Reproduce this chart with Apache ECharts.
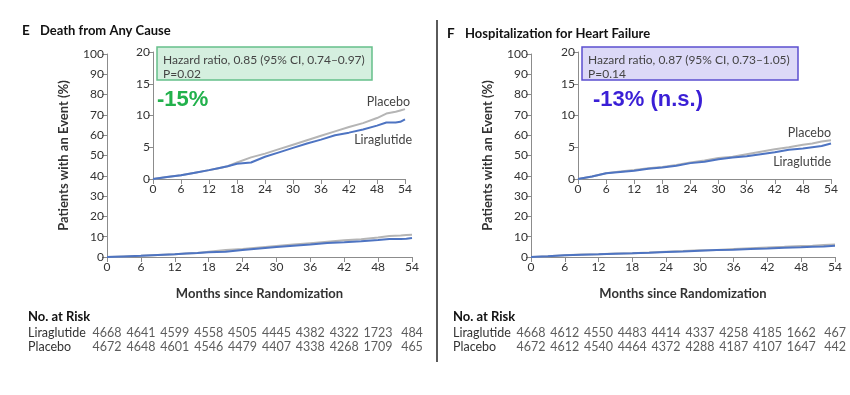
<!DOCTYPE html>
<html><head><meta charset="utf-8">
<script src="https://cdn.jsdelivr.net/npm/echarts@6/dist/echarts.min.js"></script>
<style>html,body{margin:0;padding:0;background:#fff}#c{width:850px;height:395px}</style>
</head><body><div id="c"></div>
<script>
// ---- Data ----
const deathMonths = [0,3,6,9,12,14,16,18,21,24,27,30,33,36,39,42,45,48,50,52,53,54];
const deathPlacebo = [0,0.3,0.6,1.0,1.4,1.7,2.0,2.6,3.4,4.0,4.7,5.4,6.1,6.8,7.5,8.2,8.8,9.6,10.3,10.6,10.8,11.0];
const deathLira    = [0,0.3,0.6,1.0,1.4,1.7,2.0,2.4,2.6,3.5,4.2,4.9,5.6,6.2,6.9,7.3,7.8,8.4,8.9,8.9,9.0,9.4];

const hfMonths = [0,3,6,9,12,15,18,21,24,27,30,33,36,39,42,45,48,50,52,54];
const hfPlacebo = [0,0.4,0.9,1.2,1.4,1.7,1.9,2.2,2.6,2.9,3.3,3.5,3.9,4.3,4.7,5.0,5.4,5.6,5.9,6.1];
const hfLira    = [0,0.4,0.9,1.1,1.3,1.6,1.8,2.1,2.5,2.7,3.1,3.4,3.6,3.9,4.2,4.6,4.8,5.0,5.2,5.6];

const riskMonths = [0,6,12,18,24,30,36,42,48,54];
const riskGroups = ['Liraglutide','Placebo'];
const deathRiskLira    = [4668,4641,4599,4558,4505,4445,4382,4322,1723,484];
const deathRiskPlacebo = [4672,4648,4601,4546,4479,4407,4338,4268,1709,465];
const hfRiskLira       = [4668,4612,4550,4483,4414,4337,4258,4185,1662,467];
const hfRiskPlacebo    = [4672,4612,4540,4464,4372,4288,4187,4107,1647,442];

const panelTitles = ['Death from Any Cause','Hospitalization for Heart Failure'];
const hrTexts = ['Hazard ratio, 0.85 (95% CI, 0.74–0.97)\nP=0.02','Hazard ratio, 0.87 (95% CI, 0.73–1.05)\nP=0.14'];
const bigTexts = ['-15%','-13% (n.s.)'];

// ---- Styling ----
const FONT = 'Lato';
const AX = '#8c8c8c';
const TXT = '#333';
const C_PLA = '#b5b5b5';
const C_LIR = '#4e74c2';

const pair = (xs, ys) => xs.map((x,i)=>[x, ys[i]]);

function xAx(grid, opts) {
  return Object.assign({
    type:'value', gridIndex:grid, min:0, max:54, interval:6,
    axisLine:{show:true, lineStyle:{color:AX, width:1}},
    axisTick:{show:true, length:5, lineStyle:{color:AX}},
    axisLabel:{color:TXT, fontFamily:FONT, fontSize:12, margin:4},
    splitLine:{show:false}
  }, opts||{});
}
function yAx(grid, max, interval, opts) {
  return Object.assign({
    type:'value', gridIndex:grid, min:0, max:max, interval:interval,
    axisLine:{show:true, lineStyle:{color:AX, width:1}},
    axisTick:{show:true, length:5, lineStyle:{color:AX}},
    axisLabel:{color:TXT, fontFamily:FONT, fontSize:12, margin:3},
    splitLine:{show:false}
  }, opts||{});
}
function riskX(grid){ return {type:'value', gridIndex:grid, min:0, max:54, show:false}; }
function riskY(grid, margin){
  return {type:'category', gridIndex:grid, data:riskGroups, inverse:true,
    axisLine:{show:false}, axisTick:{show:false},
    axisLabel:{color:TXT, fontFamily:FONT, fontSize:12.5, align:'left', margin:margin, interval:0}};
}

const mainName = {
  name:'Months since Randomization', nameLocation:'middle', nameGap:30,
  nameTextStyle:{color:TXT, fontFamily:FONT, fontSize:13, fontWeight:'bold'}
};
const yName = {
  name:'Patients with an Event (%)', nameLocation:'middle', nameGap:37,
  nameTextStyle:{color:TXT, fontFamily:FONT, fontSize:13, fontWeight:'bold'}
};

const grids = [
  {left:107, top:54, width:305, height:203},   // 0 left main
  {left:153, top:52, width:252, height:127},   // 1 left inset
  {left:107, top:326, width:305, height:28},   // 2 left risk
  {left:531, top:54, width:304, height:203},   // 3 right main
  {left:578, top:52, width:253, height:127},   // 4 right inset
  {left:531, top:326, width:304, height:28}    // 5 right risk
];

const xAxes = [xAx(0, mainName), xAx(1), riskX(2), xAx(3, mainName), xAx(4), riskX(5)];
const yAxes = [yAx(0,100,10,yName), yAx(1,20,5), riskY(2,79), yAx(3,100,10,yName), yAx(4,20,5), riskY(5,78)];

function line(grid, data, color, w){
  return {type:'line', xAxisIndex:grid, yAxisIndex:grid, data:data, showSymbol:false,
    symbol:'none', lineStyle:{color:color, width:w}, itemStyle:{color:color}, silent:true, animation:false};
}
function risk(grid, vals, group){
  return {type:'scatter', xAxisIndex:grid, yAxisIndex:grid, symbolSize:1,
    itemStyle:{color:'rgba(0,0,0,0)'}, animation:false, silent:true,
    data: riskMonths.map((m,i)=>[m, group, vals[i]]),
    label:{show:true, position:'inside', formatter:p=>String(p.value[2]),
      color:TXT, fontFamily:FONT, fontSize:12.5}};
}

const series = [
  line(0, pair(deathMonths, deathPlacebo), C_PLA, 2),
  line(0, pair(deathMonths, deathLira), C_LIR, 2),
  line(1, pair(deathMonths, deathPlacebo), C_PLA, 2),
  line(1, pair(deathMonths, deathLira), C_LIR, 2),
  risk(2, deathRiskLira, 'Liraglutide'),
  risk(2, deathRiskPlacebo, 'Placebo'),
  line(3, pair(hfMonths, hfPlacebo), C_PLA, 2),
  line(3, pair(hfMonths, hfLira), C_LIR, 2),
  line(4, pair(hfMonths, hfPlacebo), C_PLA, 2),
  line(4, pair(hfMonths, hfLira), C_LIR, 2),
  risk(5, hfRiskLira, 'Liraglutide'),
  risk(5, hfRiskPlacebo, 'Placebo')
];

function txt(x,y,t,style){
  return {type:'text', x:x, y:y, silent:true,
    style:Object.assign({text:t, fill:TXT, font:'12px '+FONT, textVerticalAlign:'middle'}, style||{})};
}

const graphic = [
  // separator
  {type:'line', shape:{x1:437,y1:20,x2:437,y2:362}, style:{stroke:'#5a5a5a', lineWidth:2}, silent:true},
  // titles
  txt(22,31,'E',{font:'bold 13.5px '+FONT, fill:'#111'}),
  txt(40,31,panelTitles[0],{font:'bold 13px '+FONT, fill:'#111'}),
  txt(447,34,'F',{font:'bold 13.5px '+FONT, fill:'#111'}),
  txt(465,34,panelTitles[1],{font:'bold 13px '+FONT, fill:'#111'}),
  // HR boxes
  {type:'rect', shape:{x:157,y:47,width:215,height:33}, style:{fill:'#d5efdf', stroke:'#66c08a', lineWidth:1.5}, silent:true},
  txt(163,53,hrTexts[0],{textVerticalAlign:'top', lineHeight:14, fill:'#444'}),
  {type:'rect', shape:{x:582,y:47,width:216,height:33}, style:{fill:'#dcd9f7', stroke:'#5b4fd0', lineWidth:1.5}, silent:true},
  txt(588,53,hrTexts[1],{textVerticalAlign:'top', lineHeight:14, fill:'#444'}),
  // big percentages
  txt(157,100,bigTexts[0],{font:'bold 22px "Liberation Sans"', fill:'#22b14c'}),
  txt(593,100,bigTexts[1],{font:'bold 22px "Liberation Sans"', fill:'#3a1fd6'}),
  // curve labels
  txt(410,102,'Placebo',{textAlign:'right', fill:'#444', font:'12.5px '+FONT}),
  txt(412,140,'Liraglutide',{textAlign:'right', fill:'#444', font:'12.5px '+FONT}),
  txt(831,133,'Placebo',{textAlign:'right', fill:'#444', font:'12.5px '+FONT}),
  txt(831,162,'Liraglutide',{textAlign:'right', fill:'#444', font:'12.5px '+FONT}),
  // No. at Risk headers
  txt(28,317,'No. at Risk',{font:'bold 13px '+FONT, fill:'#111'}),
  txt(453,317,'No. at Risk',{font:'bold 13px '+FONT, fill:'#111'})
];

const chart = echarts.init(document.getElementById('c'), null, {renderer:'canvas'});
chart.setOption({
  animation:false,
  backgroundColor:'#fff',
  grid:grids, xAxis:xAxes, yAxis:yAxes, series:series, graphic:graphic
});
</script>
</body></html>
